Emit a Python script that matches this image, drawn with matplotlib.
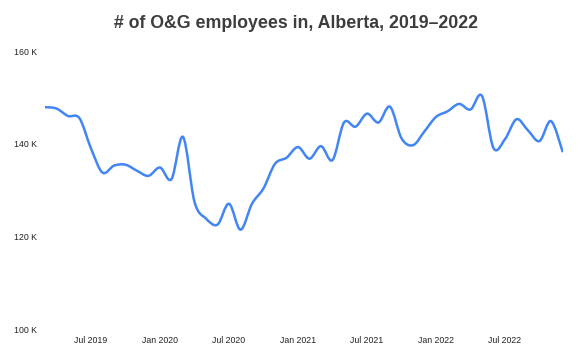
import matplotlib.pyplot as plt
import numpy as np
from matplotlib.path import Path
from matplotlib.patches import PathPatch

# monthly employees (thousands), Mar 2019 .. Dec 2022
start_month = '2019-03'
employees = [147.9, 147.6, 146.0, 145.5, 139.0, 133.8, 135.3, 135.5, 134.2, 133.1,
             134.9, 132.4, 141.5, 127.5, 123.9, 122.6, 127.1, 121.5, 127.1, 130.4,
             135.7, 137.0, 139.3, 136.8, 139.5, 136.5, 144.6, 143.7, 146.5, 144.6,
             148.0, 141.2, 139.7, 142.7, 145.8, 147.0, 148.6, 147.4, 150.3, 139.1,
             141.0, 145.3, 142.9, 140.6, 144.9, 138.4]
tick_pos = [4, 10, 16, 22, 28, 34, 40]
tick_labels = ['Jul 2019', 'Jan 2020', 'Jul 2020', 'Jan 2021', 'Jul 2021', 'Jan 2022', 'Jul 2022']
y_ticks = [100, 120, 140, 160]
y_labels = ['100 K', '120 K', '140 K', '160 K']

plt.rcParams['font.family'] = ['Liberation Sans', 'DejaVu Sans']

x = np.arange(len(employees), dtype=float)
y = np.array(employees)


def smooth_path(x, y):
    # catmull-rom style bezier through the points
    pts = np.column_stack([x, y])
    padded = np.vstack([pts[0], pts, pts[-1]])
    verts = [pts[0]]
    codes = [Path.MOVETO]
    for i in range(len(pts) - 1):
        p0, p1, p2, p3 = padded[i], padded[i + 1], padded[i + 2], padded[i + 3]
        verts += [p1 + (p2 - p0) / 6, p2 - (p3 - p1) / 6, p2]
        codes += [Path.CURVE4] * 3
    return Path(verts, codes)


fig = plt.figure(figsize=(5.8, 3.61), dpi=100)
ax = fig.add_axes([45 / 580, 1 - 329.5 / 361, 517.5 / 580, 278.5 / 361])

ax.add_patch(PathPatch(smooth_path(x, y), facecolor='none', edgecolor='#4285f4',
                       lw=1.8, capstyle='round', joinstyle='round'))

ax.set_xlim(0, len(employees) - 1)
ax.set_ylim(100, 160)
ax.set_xticks(tick_pos)
ax.set_xticklabels(tick_labels)
ax.set_yticks(y_ticks)
ax.set_yticklabels(y_labels)
ax.tick_params(length=0, labelsize=6.3, colors='#222222')
ax.tick_params(axis='x', pad=5)
ax.tick_params(axis='y', pad=6)
for s in ax.spines.values():
    s.set_visible(False)

fig.text(296 / 580, 1 - 23 / 361, '# of O&G employees in, Alberta, 2019–2022',
         ha='center', va='center', fontsize=12.8, fontweight='bold', color='#3d3d3d')

plt.savefig('out.png', dpi=100)
